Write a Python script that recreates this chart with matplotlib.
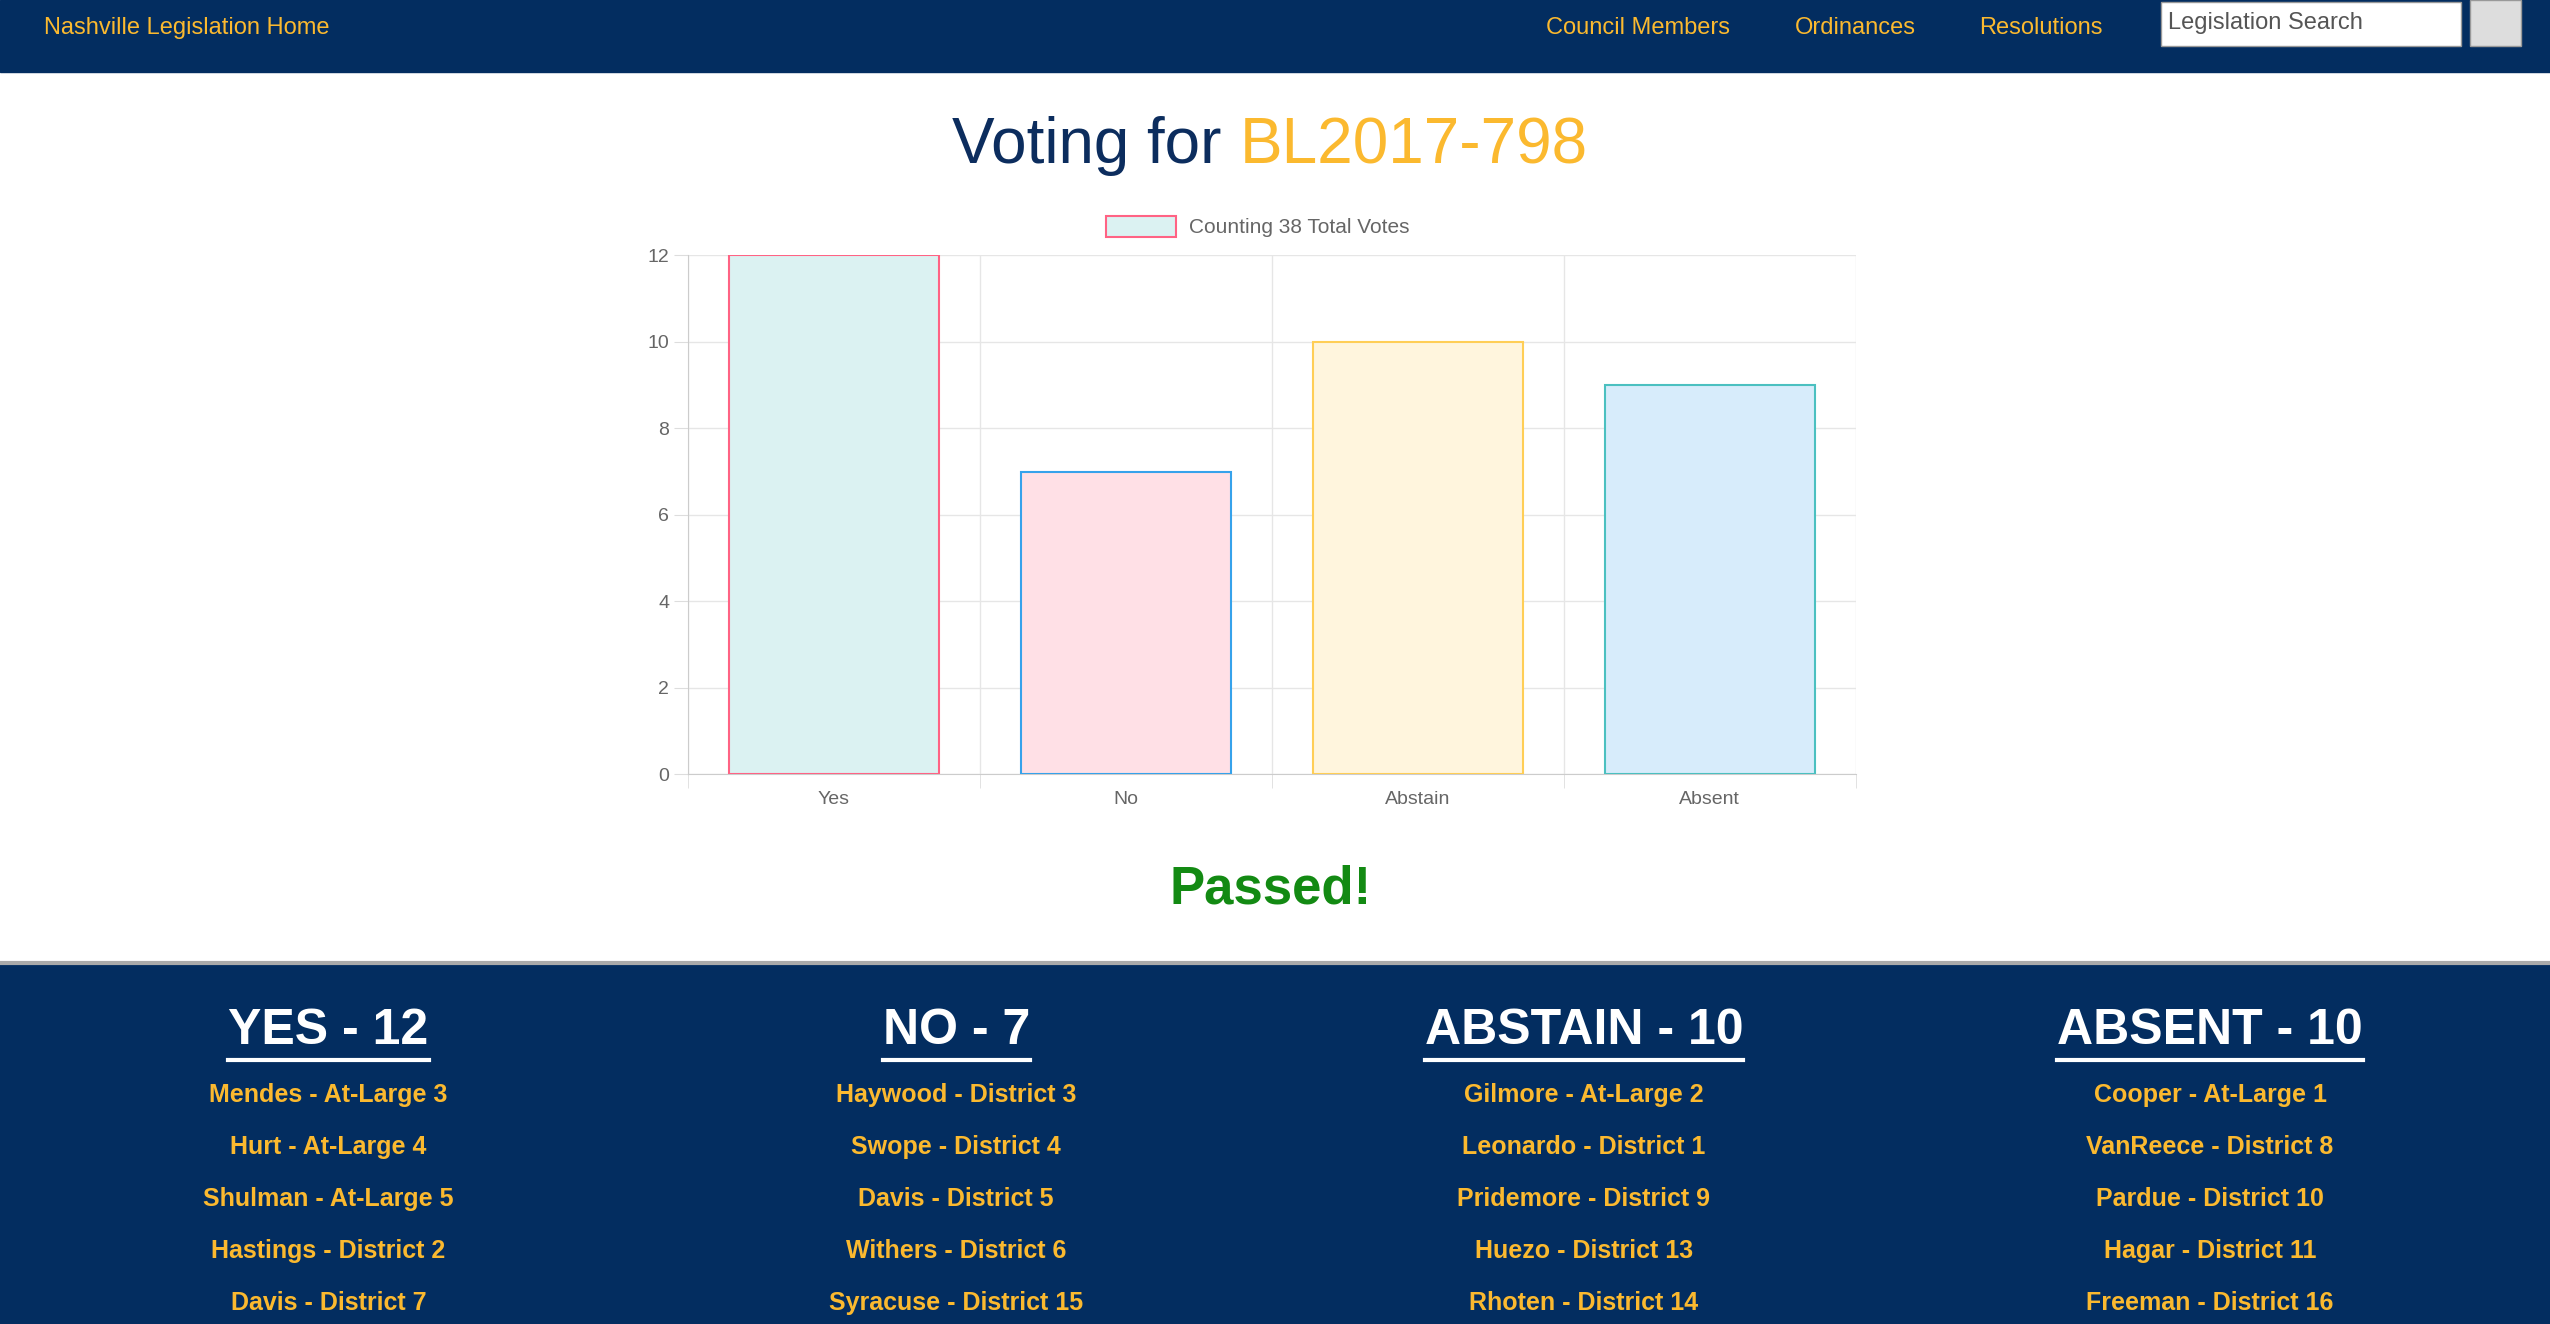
import matplotlib
matplotlib.use("Agg")
import matplotlib.pyplot as plt
from matplotlib.patches import Rectangle, Circle
from matplotlib.lines import Line2D

plt.rcParams["font.family"] = ["Liberation Sans", "DejaVu Sans"]

NAVY = "#032d60"
GOLD = "#fbb92f"

categories = ["Yes", "No", "Abstain", "Absent"]
votes = [12, 7, 10, 9]
bar_fill = ["#dbf2f2", "#ffe0e6", "#fff5dd", "#d7ecfb"]
bar_edge = ["#ff6384", "#36a2eb", "#ffce56", "#4bc0c0"]

nav_links = ["Council Members", "Ordinances", "Resolutions"]
nav_x = [1007, 1141, 1255]

headers = ["YES - 12", "NO - 7", "ABSTAIN - 10", "ABSENT - 10"]
members = [
    ["Mendes - At-Large 3", "Hurt - At-Large 4", "Shulman - At-Large 5", "Hastings - District 2", "Davis - District 7"],
    ["Haywood - District 3", "Swope - District 4", "Davis - District 5", "Withers - District 6", "Syracuse - District 15"],
    ["Gilmore - At-Large 2", "Leonardo - District 1", "Pridemore - District 9", "Huezo - District 13", "Rhoten - District 14"],
    ["Cooper - At-Large 1", "VanReece - District 8", "Pardue - District 10", "Hagar - District 11", "Freeman - District 16"],
]
col_x = [202, 588, 974, 1359]

W, H = 1568.0, 814.0


def fx(x):
    return x / W


def fy(y):
    return 1 - y / H


fig = plt.figure(figsize=(25.5, 13.24), dpi=100)
fig.patch.set_facecolor("white")

# nav bar
fig.patches.append(Rectangle((0, fy(44)), 1, 44 / H, transform=fig.transFigure, color=NAVY, zorder=0))
fig.text(fx(27), fy(17), "Nashville Legislation Home", color=GOLD, fontsize=17, va="center")
for label, x in zip(nav_links, nav_x):
    fig.text(fx(x), fy(17), label, color=GOLD, fontsize=17, va="center", ha="center")
fig.patches.append(Rectangle((fx(1329), fy(28)), fx(184), 27 / H, transform=fig.transFigure,
                             facecolor="white", edgecolor="#999999", zorder=1))
fig.text(fx(1333), fy(14), "Legislation Search", color="#555555", fontsize=17, va="center")
fig.patches.append(Rectangle((fx(1519), fy(28)), fx(31), 28 / H, transform=fig.transFigure,
                             facecolor="#dddddd", edgecolor="#999999", zorder=1))
mag = fig.add_axes([fx(1522), fy(26), fx(25), 24 / H])
mag.set_xlim(0, 10)
mag.set_ylim(0, 10)
mag.set_aspect("equal")
mag.axis("off")
mag.add_patch(Circle((4.6, 5.6), 2.2, fill=False, lw=2.5, color="#333333"))
mag.plot([6.2, 8.0], [4.0, 2.2], color="#333333", lw=3.5, solid_capstyle="round")

# title
renderer = fig.canvas.get_renderer()
t1 = fig.text(0, fy(90), "Voting for ", color="#0c2d5e", fontsize=46, va="center")
t2 = fig.text(0, fy(90), "BL2017-798", color=GOLD, fontsize=46, va="center")
w1 = t1.get_window_extent(renderer).width / fig.bbox.width
w2 = t2.get_window_extent(renderer).width / fig.bbox.width
start = fx(781) - (w1 + w2) / 2
t1.set_x(start)
t2.set_x(start + w1)

# chart
ax = fig.add_axes([fx(423), fy(476), fx(1141 - 423), (476 - 157) / H])
xs = range(len(categories))
ax.bar(xs, votes, width=0.72, color=bar_fill, edgecolor=bar_edge, linewidth=1.5, zorder=3)
ax.set_xlim(-0.5, len(categories) - 0.5)
ax.set_ylim(0, 12)
ax.set_yticks(range(0, 13, 2))
ax.set_xticks(list(xs))
ax.set_xticklabels(categories)
ax.set_xticks([i - 0.5 for i in range(len(categories) + 1)], minor=True)
ax.tick_params(axis="x", which="major", length=0, pad=12, labelsize=14, labelcolor="#666666")
ax.tick_params(axis="x", which="minor", length=10, color="#dddddd")
ax.tick_params(axis="y", length=10, color="#dddddd", labelsize=14, labelcolor="#666666")
ax.grid(True, which="minor", axis="x", color="#e6e6e6", lw=1, zorder=0)
ax.grid(True, which="major", axis="y", color="#e6e6e6", lw=1, zorder=0)
for s in ["top", "right"]:
    ax.spines[s].set_visible(False)
for s in ["left", "bottom"]:
    ax.spines[s].set_color("#cccccc")

# legend
fig.patches.append(Rectangle((fx(680), fy(146)), fx(43), 13 / H, transform=fig.transFigure,
                             facecolor=bar_fill[0], edgecolor=bar_edge[0], lw=1.5))
fig.text(fx(731), fy(140), "Counting 38 Total Votes", color="#666666", fontsize=15, va="center")

fig.text(fx(781), fy(547), "Passed!", color="#138a13", fontsize=38, fontweight="bold",
         ha="center", va="center")

# bottom panel
fig.patches.append(Rectangle((0, 0), 1, fy(592), transform=fig.transFigure, color=NAVY, zorder=0))
fig.lines.append(Line2D([0, 1], [fy(592), fy(592)], transform=fig.transFigure, color="#aaaaaa", lw=3))
for x, head, names in zip(col_x, headers, members):
    t = fig.text(fx(x), fy(634), head, color="white", fontsize=36, fontweight="bold",
                 ha="center", va="center")
    bb = t.get_window_extent(renderer)
    x0 = bb.x0 / fig.bbox.width
    x1 = bb.x1 / fig.bbox.width
    yl = bb.y0 / fig.bbox.height - 0.004
    fig.lines.append(Line2D([x0, x1], [yl, yl], transform=fig.transFigure, color="white", lw=3))
    for i, name in enumerate(names):
        fig.text(fx(x), fy(673 + 32 * i), name, color=GOLD, fontsize=18, fontweight="bold",
                 ha="center", va="center")

fig.savefig("out.png", dpi=100)
